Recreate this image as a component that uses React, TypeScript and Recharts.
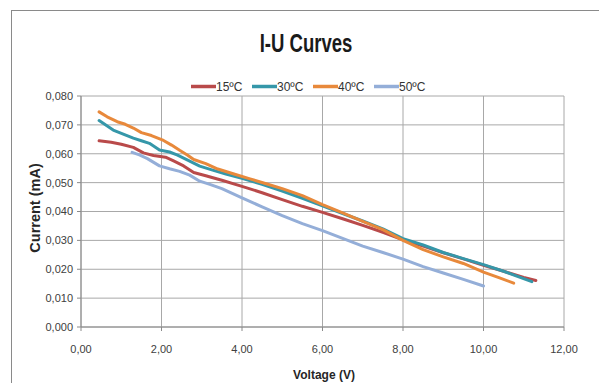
import React from 'react';
import { LineChart, Line, XAxis, YAxis, CartesianGrid } from 'recharts';

const xTicks = [0, 2, 4, 6, 8, 10, 12];
const yTicks = [0, 0.01, 0.02, 0.03, 0.04, 0.05, 0.06, 0.07, 0.08];

const title = 'I-U Curves';
const xTitle = 'Voltage (V)';
const yTitle = 'Current (mA)';

const seriesNames = ['15ºC', '30ºC', '40ºC', '50ºC'];

const data15 = [
  { x: 0.45, y: 0.0645 }, { x: 0.75, y: 0.064 }, { x: 1.0, y: 0.0633 }, { x: 1.3, y: 0.0622 },
  { x: 1.55, y: 0.0603 }, { x: 1.8, y: 0.0594 }, { x: 2.1, y: 0.0588 }, { x: 2.3, y: 0.0575 },
  { x: 2.55, y: 0.0558 }, { x: 2.8, y: 0.0535 }, { x: 3.1, y: 0.0524 }, { x: 3.5, y: 0.0508 },
  { x: 4.0, y: 0.0487 }, { x: 4.5, y: 0.0465 }, { x: 5.0, y: 0.0441 }, { x: 5.5, y: 0.0418 },
  { x: 6.0, y: 0.0397 }, { x: 6.5, y: 0.0375 }, { x: 7.0, y: 0.0352 }, { x: 7.5, y: 0.0328 },
  { x: 8.0, y: 0.0302 }, { x: 8.5, y: 0.028 }, { x: 9.0, y: 0.0257 }, { x: 9.5, y: 0.0236 },
  { x: 10.0, y: 0.0214 }, { x: 10.5, y: 0.0193 }, { x: 11.0, y: 0.0172 }, { x: 11.3, y: 0.0161 },
];

const data30 = [
  { x: 0.45, y: 0.0715 }, { x: 0.8, y: 0.0682 }, { x: 1.05, y: 0.0668 }, { x: 1.3, y: 0.0654 },
  { x: 1.5, y: 0.0645 }, { x: 1.7, y: 0.0636 }, { x: 1.95, y: 0.0613 }, { x: 2.2, y: 0.0606 },
  { x: 2.4, y: 0.0595 }, { x: 2.65, y: 0.0578 }, { x: 2.95, y: 0.0557 }, { x: 3.25, y: 0.0544 },
  { x: 3.6, y: 0.053 }, { x: 4.0, y: 0.0515 }, { x: 4.5, y: 0.0494 }, { x: 5.0, y: 0.0471 },
  { x: 5.5, y: 0.0446 }, { x: 6.0, y: 0.042 }, { x: 6.5, y: 0.0393 }, { x: 7.0, y: 0.0367 },
  { x: 7.5, y: 0.034 }, { x: 8.0, y: 0.0306 }, { x: 8.5, y: 0.0284 }, { x: 9.0, y: 0.0258 },
  { x: 9.5, y: 0.0237 }, { x: 10.0, y: 0.0216 }, { x: 10.5, y: 0.0193 }, { x: 11.2, y: 0.0157 },
];

const data40 = [
  { x: 0.45, y: 0.0745 }, { x: 0.65, y: 0.0728 }, { x: 0.9, y: 0.0711 }, { x: 1.1, y: 0.0702 },
  { x: 1.3, y: 0.0689 }, { x: 1.5, y: 0.0673 }, { x: 1.75, y: 0.0663 }, { x: 2.05, y: 0.0646 },
  { x: 2.25, y: 0.063 }, { x: 2.45, y: 0.0612 }, { x: 2.65, y: 0.0595 }, { x: 2.8, y: 0.058 },
  { x: 3.1, y: 0.0566 }, { x: 3.4, y: 0.0547 }, { x: 3.8, y: 0.053 }, { x: 4.2, y: 0.0513 },
  { x: 4.6, y: 0.0496 }, { x: 5.0, y: 0.0479 }, { x: 5.5, y: 0.0455 }, { x: 6.0, y: 0.0424 },
  { x: 6.5, y: 0.0395 }, { x: 7.0, y: 0.0366 }, { x: 7.5, y: 0.0337 }, { x: 8.0, y: 0.03 },
  { x: 8.5, y: 0.0268 }, { x: 9.0, y: 0.0243 }, { x: 9.5, y: 0.022 }, { x: 10.0, y: 0.019 },
  { x: 10.4, y: 0.017 }, { x: 10.75, y: 0.0152 },
];

const data50 = [
  { x: 1.27, y: 0.0605 }, { x: 1.45, y: 0.0596 }, { x: 1.65, y: 0.0583 }, { x: 1.95, y: 0.0558 },
  { x: 2.2, y: 0.0548 }, { x: 2.45, y: 0.0539 }, { x: 2.7, y: 0.0526 }, { x: 2.95, y: 0.0505 },
  { x: 3.2, y: 0.0494 }, { x: 3.5, y: 0.0479 }, { x: 4.0, y: 0.0447 }, { x: 4.5, y: 0.0416 },
  { x: 5.0, y: 0.0386 }, { x: 5.5, y: 0.0358 }, { x: 6.0, y: 0.0334 }, { x: 6.5, y: 0.0307 },
  { x: 7.0, y: 0.028 }, { x: 7.5, y: 0.0258 }, { x: 8.0, y: 0.0235 }, { x: 8.5, y: 0.0209 },
  { x: 9.0, y: 0.0187 }, { x: 9.5, y: 0.0165 }, { x: 10.0, y: 0.0142 },
];

const seriesData = [data15, data30, data40, data50];
const colors = ['#B94A4A', '#3597A9', '#E8893B', '#94AED8'];

const FONT = "'Liberation Sans', Arial, sans-serif";
const W = 599;
const H = 383;

const fmtY = (v: number) => v.toFixed(3).replace('.', ',');
const fmtX = (v: number) => v.toFixed(2).replace('.', ',');

export default function App() {
  return (
    <div style={{ position: 'absolute', left: 0, top: 0, width: W, height: H, overflow: 'hidden', background: '#fff', fontFamily: FONT }}>
      <div style={{ position: 'absolute', left: 11, top: 10, width: 700, height: 500, border: '1px solid #8a8a8a', boxSizing: 'border-box' }} />
      <div style={{ position: 'absolute', left: 0, top: 0 }}>
        <LineChart width={W} height={H} margin={{ top: 96, right: 35, bottom: 0, left: 0 }}>
          <CartesianGrid stroke="#a8a8a8" strokeWidth={1} />
          <XAxis
            type="number"
            dataKey="x"
            domain={[0, 12]}
            ticks={xTicks}
            interval={0}
            tickFormatter={fmtX}
            height={56}
            tickSize={4}
            tickMargin={14}
            stroke="#8a8a8a"
            tick={{ fontSize: 11, fill: '#404040', fontFamily: FONT }}
          />
          <YAxis
            type="number"
            dataKey="y"
            domain={[0, 0.08]}
            ticks={yTicks}
            interval={0}
            tickFormatter={fmtY}
            width={81}
            tickSize={4}
            tickMargin={4}
            stroke="#8a8a8a"
            tick={{ fontSize: 11, fill: '#404040', fontFamily: FONT }}
          />
          {seriesData.map((d, i) => (
            <Line
              key={seriesNames[i]}
              data={d}
              dataKey="y"
              name={seriesNames[i]}
              type="linear"
              stroke={colors[i]}
              strokeWidth={3}
              strokeLinecap="round"
              strokeLinejoin="round"
              dot={false}
              activeDot={false}
              isAnimationActive={false}
            />
          ))}
        </LineChart>
      </div>
      <svg width={W} height={H} style={{ position: 'absolute', left: 0, top: 0, pointerEvents: 'none' }}>
        <text transform="translate(306,52) scale(0.7,1)" textAnchor="middle" fontSize={26.5} fontWeight="bold" fill="#1a1a1a" fontFamily={FONT}>
          {title}
        </text>
        {seriesNames.map((n, i) => (
          <g key={n}>
            <line x1={191 + i * 61} x2={216 + i * 61} y1={86.5} y2={86.5} stroke={colors[i]} strokeWidth={3.5} />
            <text x={216 + i * 61} y={91} fontSize={12} fill="#333" fontFamily={FONT}>{n}</text>
          </g>
        ))}
        <text x={324} y={379} textAnchor="middle" fontSize={12} fontWeight="bold" fill="#262626" fontFamily={FONT}>{xTitle}</text>
        <text transform="translate(39.5,208) rotate(-90)" textAnchor="middle" fontSize={14.5} fontWeight="bold" fill="#262626" fontFamily={FONT}>{yTitle}</text>
      </svg>
    </div>
  );
}
